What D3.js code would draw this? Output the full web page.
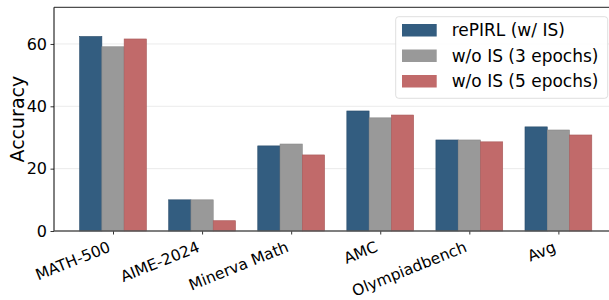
<!DOCTYPE html>
<html>
<head>
<meta charset="utf-8">
<script src="https://cdn.jsdelivr.net/npm/d3@7"></script>
<style>
  body { margin: 0; background: #fff; }
  svg { display: block; font-family: "DejaVu Sans", sans-serif; }
</style>
</head>
<body>
<svg id="chart" width="609" height="300"></svg>
<script>
// 数据
const categories = ['MATH-500', 'AIME-2024', 'Minerva Math', 'AMC', 'Olympiadbench', 'Avg'];
const seriesNames = ['rePIRL (w/ IS)', 'w/o IS (3 epochs)', 'w/o IS (5 epochs)'];
const withIS = [62.4, 10.0, 27.3, 38.5, 29.2, 33.4];
const noIS3 = [59.1, 10.0, 27.9, 36.3, 29.2, 32.4];
const noIS5 = [61.6, 3.3, 24.4, 37.2, 28.6, 30.8];
const yTicks = [0, 20, 40, 60];

const series = [withIS, noIS3, noIS5];
const fills = ['#335d80', '#999999', '#c16a6a'];
const strokes = ['#2a4d6b', '#888888', '#a85858'];
const fontFamily = '"DejaVu Sans", sans-serif';

const svg = d3.select('#chart');
const plotLeft = 54, plotTop = 7.3, plotBottom = 231;
const barW = 0.25; // 柱宽（类别单位）

const x = d3.scaleLinear()
    .domain([-0.6625, categories.length - 1 + 0.6625])
    .range([plotLeft, 617.4]);
const y = d3.scaleLinear()
    .domain([0, d3.max(withIS) * 1.15])
    .range([plotBottom, plotTop]);

// 网格线
svg.append('g').selectAll('line')
    .data(yTicks.slice(1))
    .enter()
    .append('line')
    .attr('x1', plotLeft)
    .attr('x2', 609)
    .attr('y1', d => y(d))
    .attr('y2', d => y(d))
    .attr('stroke', '#ebebeb')
    .attr('stroke-width', 1);

// 柱图
series.forEach((vals, j) => {
    svg.append('g').selectAll('rect')
        .data(vals)
        .enter()
        .append('rect')
        .attr('x', (d, i) => x(i + (j - 1.5) * barW))
        .attr('width', x(barW) - x(0))
        .attr('y', d => y(d))
        .attr('height', d => y(0) - y(d))
        .attr('fill', fills[j])
        .attr('stroke', strokes[j])
        .attr('stroke-width', 0.6);
});

// x轴
const xAxis = d3.axisBottom(x)
    .tickValues(d3.range(categories.length))
    .tickFormat(i => categories[i])
    .tickSize(3.5)
    .tickSizeOuter(0);
const xg = svg.append('g')
    .attr('transform', `translate(0, ${plotBottom})`)
    .attr('font-family', fontFamily)
    .call(xAxis);
xg.attr('font-family', fontFamily);
xg.select('.domain').remove();
xg.selectAll('.tick line').attr('stroke', '#000').attr('stroke-width', 0.8);
xg.selectAll('.tick text')
    .attr('font-size', 15.5)
    .attr('fill', '#000')
    .attr('text-anchor', 'end')
    .attr('dy', 0)
    .attr('y', 0)
    .attr('transform', 'translate(-2, 20) rotate(-22)');

// y轴
const yAxis = d3.axisLeft(y)
    .tickValues(yTicks)
    .tickSize(3.5)
    .tickSizeOuter(0);
const yg = svg.append('g')
    .attr('transform', `translate(${plotLeft}, 0)`)
    .call(yAxis);
yg.attr('font-family', fontFamily);
yg.select('.domain').remove();
yg.selectAll('.tick line').attr('stroke', '#000').attr('stroke-width', 0.8);
yg.selectAll('.tick text').attr('font-size', 16).attr('fill', '#000').attr('x', -7);

// 边框
svg.append('line').attr('x1', plotLeft).attr('x2', plotLeft).attr('y1', plotTop).attr('y2', plotBottom)
    .attr('stroke', '#000').attr('stroke-width', 1);
svg.append('line').attr('x1', plotLeft).attr('x2', 609).attr('y1', plotTop).attr('y2', plotTop)
    .attr('stroke', '#222').attr('stroke-width', 1);
svg.append('line').attr('x1', plotLeft).attr('x2', 609).attr('y1', plotBottom).attr('y2', plotBottom)
    .attr('stroke', '#555').attr('stroke-width', 1.5);

// y轴标题
svg.append('text')
    .attr('transform', `translate(24, ${(plotTop + plotBottom) / 2}) rotate(-90)`)
    .attr('text-anchor', 'middle')
    .attr('font-size', 19)
    .text('Accuracy');

// Legend
const legend = svg.append('g').attr('transform', 'translate(395.7, 16.7)');
legend.append('rect')
    .attr('width', 212)
    .attr('height', 81.6)
    .attr('rx', 3)
    .attr('fill', '#fff')
    .attr('fill-opacity', 0.85)
    .attr('stroke', '#d6d6d6')
    .attr('stroke-width', 0.8);
seriesNames.forEach((name, j) => {
    const g = legend.append('g').attr('transform', `translate(0, ${7.3 + j * 25.5})`);
    g.append('rect')
        .attr('x', 6.3)
        .attr('y', 0)
        .attr('width', 34.7)
        .attr('height', 12.5)
        .attr('fill', fills[j]);
    g.append('text')
        .attr('x', 56)
        .attr('y', 12)
        .attr('font-size', 17)
        .text(name);
});
</script>
</body>
</html>
